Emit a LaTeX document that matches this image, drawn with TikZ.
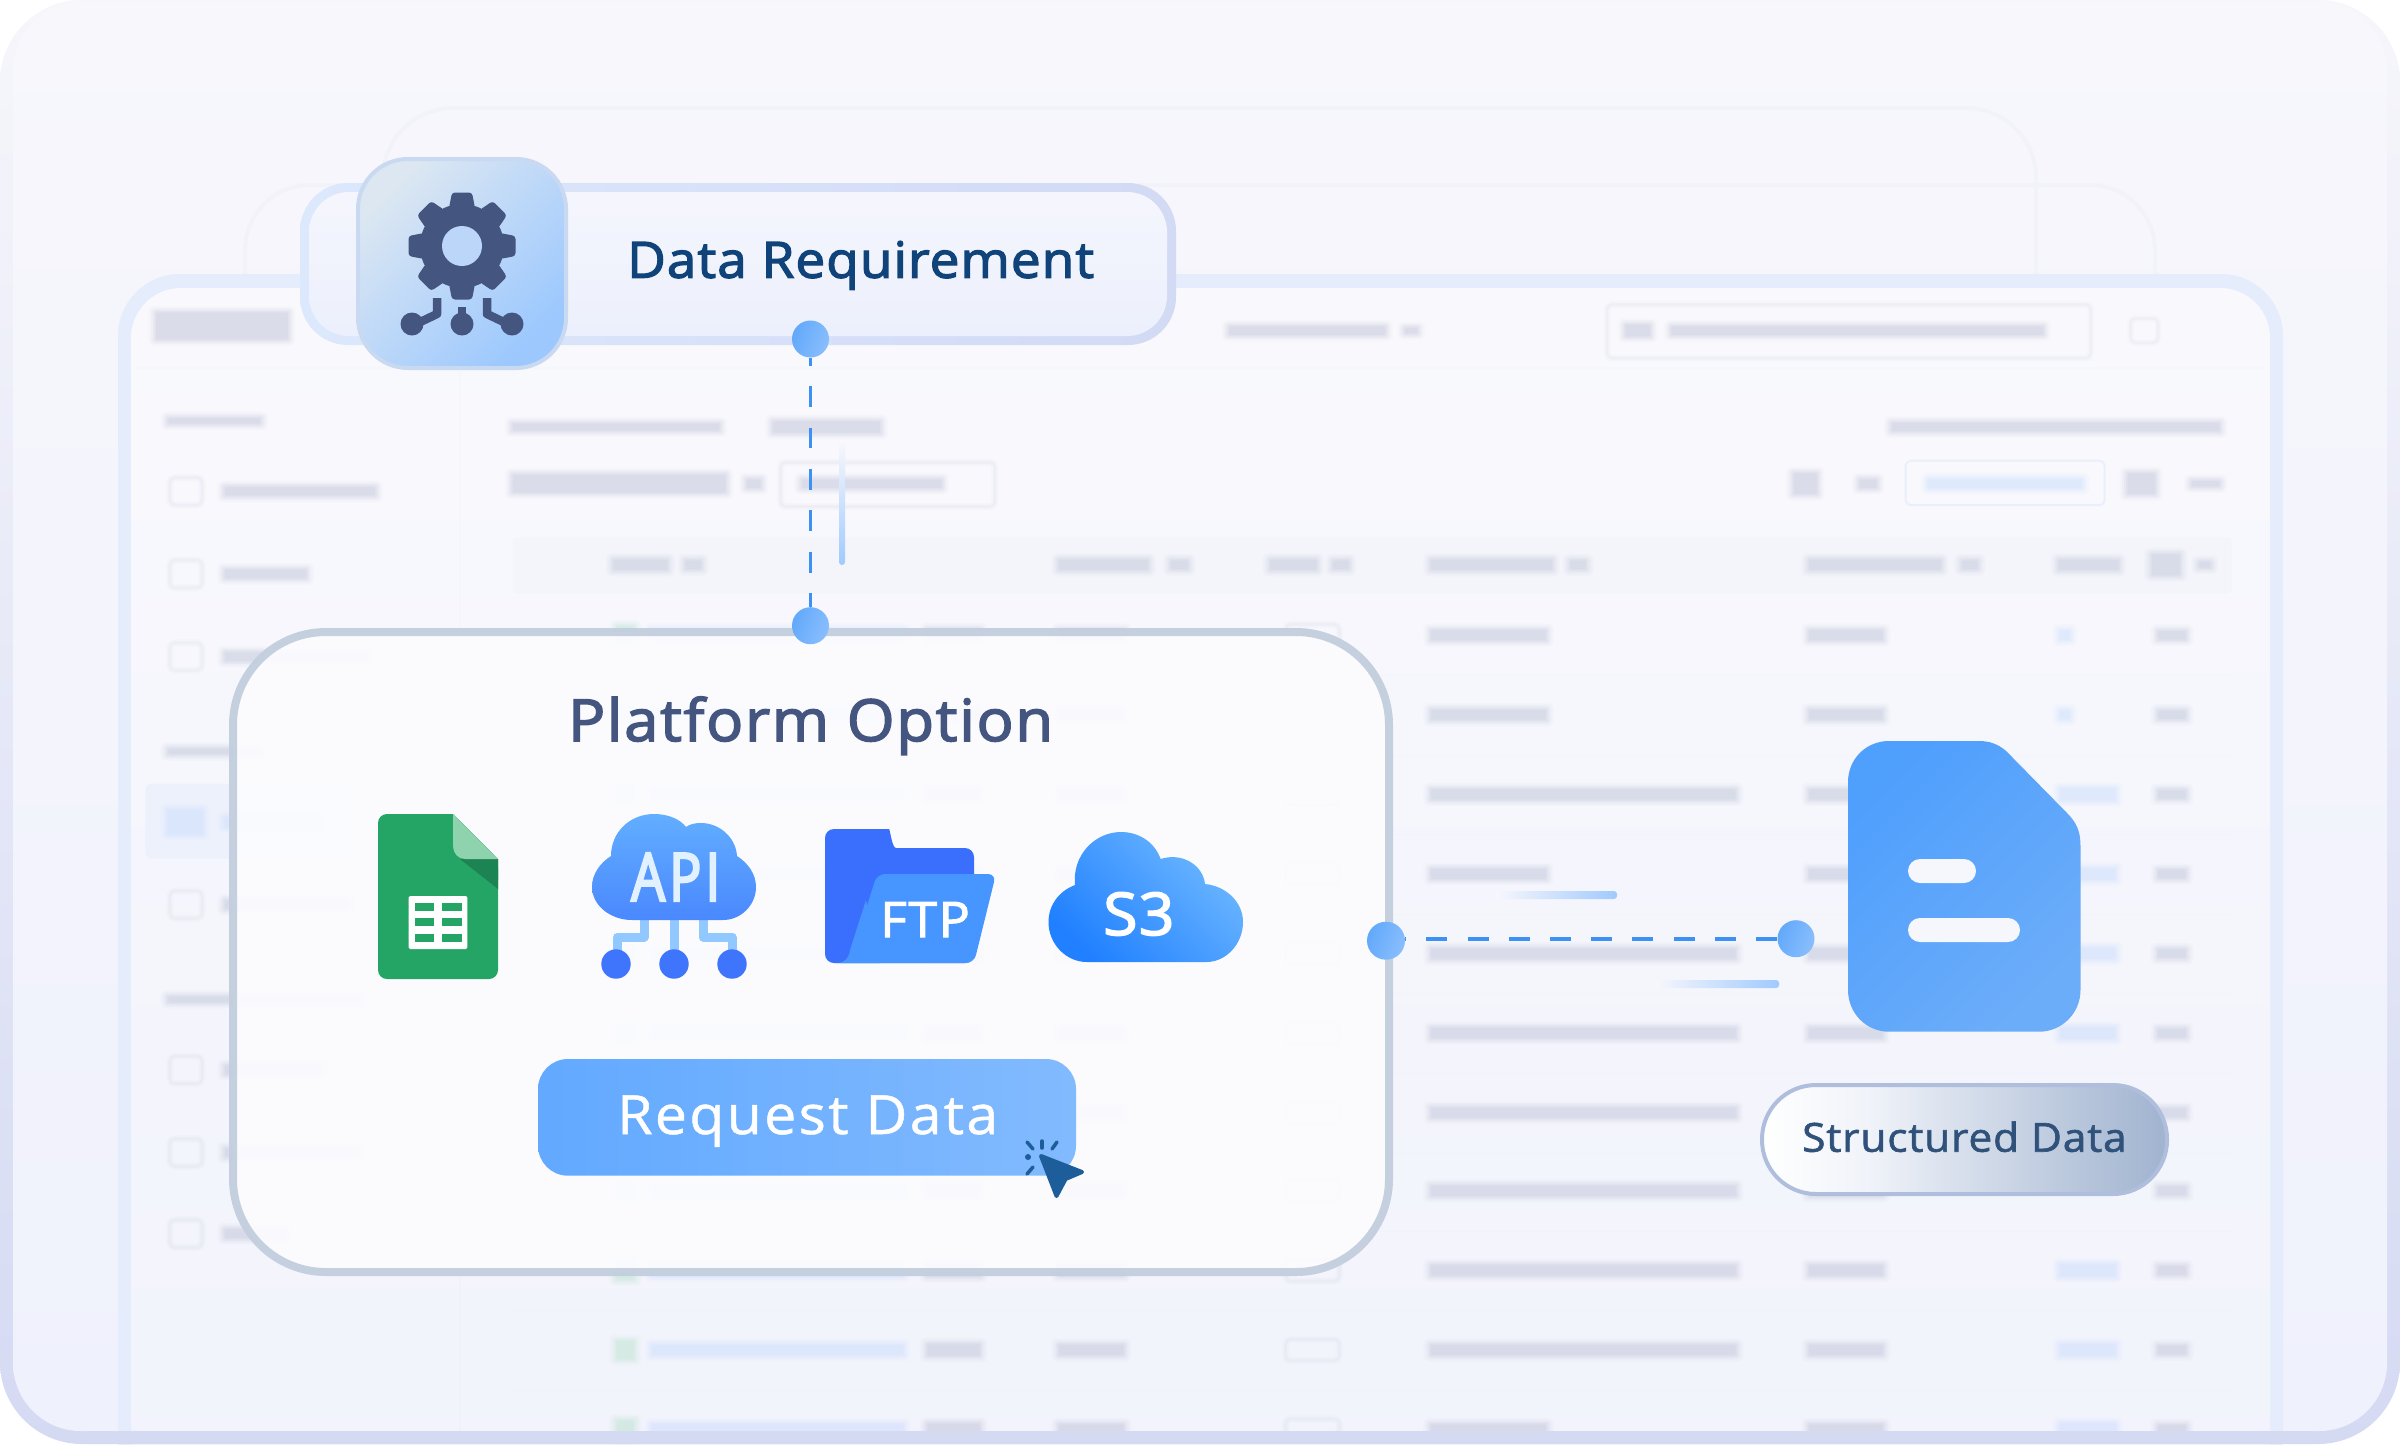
\documentclass[tikz,border=0pt]{standalone}
\usepackage{fontspec}
\setmainfont{Open Sans}
\newcommand\lab[3]{\fontsize{#1}{#1}\selectfont\fontspec{Open Sans}[FakeBold=#2,FakeStretch=1.06,LetterSpace=#3]}
\definecolor{bgtop}{HTML}{F7F7FC}
\definecolor{bgbot}{HTML}{EFF1FC}
\definecolor{frtop}{HTML}{F6F6FB}
\definecolor{frbot}{HTML}{D5DAF3}
\definecolor{paneltop}{HTML}{F9F9FD}
\definecolor{panelbot}{HTML}{F1F3FC}
\definecolor{panelline}{HTML}{E5ECFB}
\definecolor{backline}{HTML}{F2F3F9}
\definecolor{blurgrey}{HTML}{C6CADD}
\definecolor{blurblue}{HTML}{CFE0FC}
\definecolor{blurgreen}{HTML}{BFE6D4}
\definecolor{dotA}{HTML}{62A9FB}
\definecolor{dotB}{HTML}{8ABEFD}
\definecolor{dash}{HTML}{3D91F5}
\definecolor{accent}{HTML}{A0CAFD}
\definecolor{navy}{HTML}{44557F}
\definecolor{ink}{HTML}{10437A}
\definecolor{pillink}{HTML}{30527A}
\definecolor{sheet}{HTML}{24A566}
\definecolor{sheetlt}{HTML}{8FD2AE}
\definecolor{sheetdk}{HTML}{1C8452}
\definecolor{folderbk}{HTML}{3A6EFC}
\definecolor{folderfr}{HTML}{4795FE}
\definecolor{cursor}{HTML}{1C5D9A}
\definecolor{platline}{HTML}{C3CEDE}
\definecolor{pilldark}{HTML}{A0B3CF}
\definecolor{pillmid}{HTML}{F0F3F9}
\definecolor{apiln}{HTML}{90C8FF}
\definecolor{drlinea}{HTML}{DCE8FC}
\definecolor{drlineb}{HTML}{D2DAF4}
\definecolor{drfilla}{HTML}{F5F6FD}
\definecolor{drfillb}{HTML}{ECF0FC}
\definecolor{tileline}{HTML}{C9D9F2}
\definecolor{tilebr}{HTML}{9CC8FE}
\definecolor{tiletl}{HTML}{DCE7F2}
\definecolor{tilemid}{HTML}{BBD6F8}
\definecolor{platfill}{HTML}{FCFCFF}
\definecolor{apidot}{HTML}{3F74FC}
\definecolor{apitop}{HTML}{62AEFF}
\definecolor{apibot}{HTML}{4A88FE}
\definecolor{apitext}{HTML}{E2F1FF}
\definecolor{s3a}{HTML}{2080FF}
\definecolor{s3b}{HTML}{6EB8FF}
\definecolor{btna}{HTML}{62A9FF}
\definecolor{btnb}{HTML}{82BAFE}
\definecolor{doca}{HTML}{4F9FFD}
\definecolor{docb}{HTML}{6CADF9}
\definecolor{docbar}{HTML}{F5F7FD}
\definecolor{pillline}{HTML}{AFBEDC}
\pgfdeclarehorizontalshading{pillshade}{100bp}{color(0bp)=(white);color(25bp)=(white);color(38bp)=(pillmid);color(75bp)=(pilldark);color(100bp)=(pilldark)}
\tikzset{
  conn/.style={draw=dash,line width=4pt},
  portdot/.style={circle,minimum size=37pt,inner sep=0pt,shade,bottom color=dotA,top color=dotB,shading angle=-110},
  tlabel/.style={anchor=base west,inner sep=0pt},
  glyph/.style={fill=navy},
  iconline/.style={draw=navy,line width=8.5pt},
  apiline/.style={draw=apiln,line width=9pt,line join=round},
  spark/.style={draw=cursor,line width=3.5pt,line cap=round},
}
\newcommand\blurbar[5]{%
  \fill[#5,opacity=.08,rounded corners=5pt] ({#1-5},{#3-#4-4}) rectangle ({#2+5},{#3+#4+4});
  \fill[#5,opacity=.12,rounded corners=4pt] ({#1-3.5},{#3-#4-2.8}) rectangle ({#2+3.5},{#3+#4+2.8});
  \fill[#5,opacity=.16,rounded corners=3pt] ({#1-2.2},{#3-#4-1.7}) rectangle ({#2+2.2},{#3+#4+1.7});
  \fill[#5,opacity=.20,rounded corners=2pt] ({#1-1},{#3-#4-.7}) rectangle ({#2+1},{#3+#4+.7});
  \fill[#5,opacity=.22,rounded corners=2pt] (#1,{#3-#4+.3}) rectangle (#2,{#3+#4-.3});
}
\newcommand\blurline[4]{%
  \draw[blurgrey,opacity=.07,line width=7pt,rounded corners=5pt] (#1,#2) rectangle (#3,#4);
  \draw[blurgrey,opacity=.12,line width=3pt,rounded corners=5pt] (#1,#2) rectangle (#3,#4);}
\begin{document}
\begin{tikzpicture}[x=1pt,y=-1pt]
\useasboundingbox (0,0) rectangle (2400,1444);
\fill[white] (0,0) rectangle (2400,1444);
% outer frame
\shade[top color=frtop,bottom color=frbot,rounded corners=82pt] (0,0) rectangle (2400,1444);
\shade[top color=bgtop,bottom color=bgbot,rounded corners=68pt] (13,2) rectangle (2387,1431);
% back layers
\draw[backline,line width=4pt,rounded corners=70pt] (383,400) -- (383,108) -- (2036,108) -- (2036,600);
\draw[backline,line width=4pt,rounded corners=65pt] (245,400) -- (245,185) -- (2155,185) -- (2155,500);
% main panel
\shade[top color=panelline,bottom color=panelline,rounded corners=62pt] (118,1520) -- (118,274) -- (2283,274) -- (2283,1520) -- cycle;
\shade[top color=paneltop,bottom color=panelbot,rounded corners=50pt] (131,1520) -- (131,288) -- (2270,288) -- (2270,1520) -- cycle;
% blurred screen behind (all in the small image's coordinates)
\begin{scope}[x=1.5306pt,y=-1.5306pt]
\fill[blurgrey,opacity=.04] (86,240) rectangle (1480,241);
\fill[blurgrey,opacity=.04] (300,240) rectangle (301,935);
\blurbar{102}{188}{213}{9}{blurgrey}
\blurbar{110}{170}{275}{2}{blurgrey}
\blurbar{147}{245}{321}{3}{blurgrey}
\blurbar{147}{200}{375}{3}{blurgrey}
\blurbar{147}{240}{429}{3}{blurgrey}
\blurbar{110}{170}{491}{2}{blurgrey}
\fill[blurblue,opacity=.22,rounded corners=6pt] (95,512) rectangle (230,561);
\blurbar{110}{132}{537}{8}{blurblue}
\blurbar{147}{208}{537}{3}{blurblue}
\blurbar{147}{228}{591}{3}{blurgrey}
\blurbar{110}{235}{653}{2}{blurgrey}
\blurbar{147}{210}{699}{3}{blurgrey}
\blurbar{147}{235}{753}{3}{blurgrey}
\blurbar{147}{186}{806}{3}{blurgrey}
\foreach \yy in {321,375,429,591,699,753,806}{\blurline{111}{\yy-9}{132}{\yy+9}}
% top bar
\blurbar{803}{905}{216}{3}{blurgrey}
\blurbar{918}{926}{216}{2}{blurgrey}
\blurline{1050}{199}{1366}{234}
\blurbar{1062}{1078}{216}{4}{blurgrey}
\blurbar{1092}{1335}{216}{3}{blurgrey}
\blurline{1392}{208}{1410}{224}
% heading rows
\blurbar{335}{470}{279}{2.5}{blurgrey}
\blurbar{505}{575}{279}{4}{blurgrey}
\blurbar{1236}{1450}{279}{3}{blurgrey}
\blurbar{335}{474}{316}{6}{blurgrey}
\blurbar{488}{497}{316}{3}{blurgrey}
\blurline{510}{302}{650}{331}
\blurbar{524}{615}{316}{3}{blurgrey}
\blurbar{1172}{1187}{316}{7}{blurgrey}
\blurbar{1215}{1226}{316}{3}{blurgrey}
\draw[blurblue,opacity=.35,line width=2pt,rounded corners=5pt] (1245,301) rectangle (1375,330);
\blurbar{1260}{1360}{316}{3}{blurblue}
\blurbar{1390}{1408}{316}{7}{blurgrey}
\blurbar{1432}{1450}{316}{2}{blurgrey}
% table header
\fill[blurgrey,opacity=.05,rounded corners=4pt] (335,351) rectangle (1458,388);
\blurbar{401}{436}{369}{3.5}{blurgrey}
\blurbar{448}{458}{369}{3}{blurgrey}
\blurbar{692}{750}{369}{3.5}{blurgrey}
\blurbar{765}{776}{369}{3}{blurgrey}
\blurbar{830}{860}{369}{3.5}{blurgrey}
\blurbar{871}{881}{369}{3}{blurgrey}
\blurbar{935}{1014}{369}{3.5}{blurgrey}
\blurbar{1026}{1036}{369}{3}{blurgrey}
\blurbar{1182}{1268}{369}{3.5}{blurgrey}
\blurbar{1282}{1292}{369}{3}{blurgrey}
\blurbar{1345}{1384}{369}{3.5}{blurgrey}
\blurbar{1406}{1424}{369}{7}{blurgrey}
\blurbar{1437}{1444}{369}{2}{blurgrey}
% table rows
\foreach \yy in {415,467,519,571,623,675,727,778,830,882,934}{
  \fill[blurgrey,opacity=.04] (335,\yy+26) rectangle (1458,\yy+26.7);
  \blurbar{403}{414}{\yy}{6}{blurgreen}
  \blurbar{426}{590}{\yy}{3.5}{blurblue}
  \blurbar{606}{640}{\yy}{4}{blurgrey}
  \blurbar{692}{734}{\yy}{3.5}{blurgrey}
  \blurline{840}{\yy-7}{875}{\yy+7}
  \blurbar{1182}{1230}{\yy}{3.5}{blurgrey}
  \blurbar{1410}{1428}{\yy}{3}{blurgrey}
}
\foreach \yy in {519,623,675,727,778,830,882}{\blurbar{935}{1134}{\yy}{3.5}{blurgrey}}
\foreach \yy in {415,467,571,934}{\blurbar{935}{1010}{\yy}{3.5}{blurgrey}}
\foreach \yy in {519,571,623,675,830,882,934}{\blurbar{1346}{1382}{\yy}{4}{blurblue}}
\foreach \yy in {415,467}{\blurbar{1346}{1352}{\yy}{3}{blurblue}}
\end{scope}
% frame bottom band over the panel
\fill[frbot] (88,1431) rectangle (2312,1444);
% vertical and horizontal accents
\shade[top color=bgtop,bottom color=accent,rounded corners=3pt] (839,443) rectangle (845,565);
\shade[left color=bgtop,right color=accent,rounded corners=3pt] (1496,891) rectangle (1617,899);
\shade[left color=bgtop,right color=accent,rounded corners=3pt] (1655,980) rectangle (1779,988);
% data requirement box
\shade[left color=drlinea,right color=drlineb,rounded corners=48pt] (300,183) rectangle (1176,345);
\shade[top color=drfilla,bottom color=drfillb,rounded corners=40pt] (309,192) rectangle (1167,336);
\node[tlabel,text=ink] (reqlabel) at (627,277.7) {\lab{50}{2.6}{2.2}Data Requirement};
% gear tile
\draw[draw=tileline,line width=4pt,rounded corners=50pt,shade,bottom color=tilebr,top color=tiletl,shading angle=45] (358,159) rectangle (566,368);
\begin{scope}[shift={(462,246)}]
  \fill[glyph] (0,0) circle (42pt);
  \foreach \a in {0,45,...,315}{
    \fill[glyph,rotate=\a,rounded corners=3pt] (-13,-38) -- (-10,-53.5) -- (10,-53.5) -- (13,-38) -- cycle;
  }
  \fill[tilemid] (0,0) circle (20pt);
\end{scope}
\draw[iconline,line join=round] (437,298) -- (437,314) -- (414,325);
\draw[iconline,line join=round] (487,298) -- (487,314) -- (510,325);
\draw[iconline] (462,307) -- (462,324);
\fill[glyph] (412,324) circle (11.5pt) (462,324) circle (11.5pt) (512,324) circle (11.5pt);
% platform box
\draw[draw=platline,line width=8pt,fill=platfill,fill opacity=.93,draw opacity=.95,rounded corners=93pt] (233,632) rectangle (1389,1272);
\node[tlabel,text=navy] (platlabel) at (568,741) {\lab{58}{2.6}{3}Platform Option};
% sheet icon
\fill[sheet,rounded corners=9pt] (453,814) -- (378,814) -- (378,979) -- (498,979) -- (498,859) -- cycle;
\fill[sheet] (453,814) -- (498,859) -- (498,880) -- (440,880) -- (440,814) -- cycle;
\fill[sheetdk] (460,859) -- (498,859) -- (498,889) -- cycle;
\fill[sheetlt] (453,814) -- (498,859) -- (465,859) .. controls (458,859) and (453,853) .. (453,846) -- cycle;
\fill[white,rounded corners=1.5pt] (408.6,896) rectangle (467.4,949);
\foreach \cx/\cy in {414.7/903,442/903,414.7/918,442/918,414.7/933.7,442/933.7}{
  \fill[sheet] (\cx,\cy) rectangle (\cx+19.5,\cy+8);
}
% API cloud
\draw[apiline] (644,915) -- (644,937) -- (617,937) -- (617,955);
\draw[apiline] (674,915) -- (674,955);
\draw[apiline] (703,915) -- (703,937) -- (732,937) -- (732,955);
\fill[apidot] (616,964) circle (14.7pt) (674,964) circle (14.7pt) (732,964) circle (14.7pt);
\shade[top color=apitop,bottom color=apibot] (632,920) .. controls (610,920) and (592,905) .. (592,887) .. controls (592,874) and (600,863) .. (611,856) .. controls (611,832) and (630,814) .. (654,814) .. controls (668,814) and (680,819) .. (686,827) .. controls (690,824) and (695,823) .. (701,823) .. controls (720,823) and (736,838) .. (737,856) .. controls (748,863) and (756,874) .. (756,887) .. controls (756,905) and (741,920) .. (723,920) -- cycle;
\node[tlabel,text=apitext] (apilabel) at (631,901) {\fontsize{67}{67}\selectfont\fontspec{Open Sans}[FakeBold=3.2,FakeStretch=0.8,LetterSpace=6]API};
% folder icon
\fill[folderbk,rounded corners=9pt] (825,963) -- (825,829) -- (880,829) .. controls (890,829) and (892,848) .. (905,848) -- (974,848) -- (974,963) -- cycle;
\fill[folderfr,rounded corners=8pt] (836,963) -- (974,963) -- (996,874) -- (877,874) -- (849,963) -- cycle;
\fill[folderfr] (836,963) .. controls (845,963) and (849,958) .. (850,950) -- (866,900) -- (880,963) -- cycle;
\node[tlabel,text=white] (ftplabel) at (880,937) {\lab{49}{2}{3}FTP};
% S3 cloud
\shade[bottom color=s3a,top color=s3b,shading angle=-45] (1087,962) .. controls (1066,962) and (1048.5,944) .. (1048.5,922) .. controls (1048.5,905) and (1059,891) .. (1075,885) .. controls (1072,855) and (1095,832) .. (1121,832) .. controls (1140,832) and (1155,843) .. (1160.6,859) .. controls (1182,852) and (1203,865) .. (1205,884) .. controls (1226,886) and (1243,902) .. (1243,922) .. controls (1243,944) and (1226,962) .. (1206.5,962) -- cycle;
\node[tlabel,text=white] (s3label) at (1103,935) {\lab{59}{2.6}{2}S3};
% request button
\shade[left color=btna,right color=btnb,rounded corners=30pt] (538,1059) rectangle (1076,1175.7);
\node[tlabel,text=white] (btnlabel) at (617,1134) {\lab{54}{0.9}{4.3}Request Data};
% cursor
\fill[cursor,draw=cursor,line width=4pt,line join=round] (1041,1156) -- (1082,1172) -- (1065.6,1179) -- (1056.5,1196) -- cycle;
\draw[spark] (1027,1142) -- (1033,1149);
\draw[spark] (1042,1141) -- (1042,1148);
\draw[spark] (1057,1142) -- (1052,1149);
\draw[spark] (1033,1167) -- (1027,1174);
\fill[cursor] (1028,1157) circle (3pt);
% doc icon
\shade[bottom color=doca,top color=docb,shading angle=-135] (1889,741) -- (1979,741) .. controls (1995,741) and (2004,748) .. (2012,757) -- (2067,813) .. controls (2077,823) and (2080.5,832) .. (2080.5,846) -- (2080.5,990) .. controls (2080.5,1013) and (2062,1031.7) .. (2039,1031.7) -- (1889,1031.7) .. controls (1866,1031.7) and (1848,1013) .. (1848,990) -- (1848,782) .. controls (1848,759) and (1866,741) .. (1889,741) -- cycle;
\fill[docbar,rounded corners=12pt] (1908,859) rectangle (1976,883);
\fill[docbar,rounded corners=12pt] (1908,918) rectangle (2020,942);
% pill
\draw[draw=pillline,line width=4pt,rounded corners=54pt,shade,shading=pillshade] (1762,1085) rectangle (2167,1194);
\node[tlabel,text=pillink] (pilllabel) at (1802,1151.7) {\lab{40}{1.6}{2.2}Structured Data};
% ports and connectors
\node[portdot] (p1) at (810.5,339) {};
\node[portdot] (p2) at (810.5,625.7) {};
\node[portdot,minimum size=38pt] (p3) at (1386,940.7) {};
\node[portdot] (p4) at (1796,938.7) {};
\draw[conn,line width=3.5pt,dash pattern=on 20.7pt off 20.7pt,dash phase=12.9pt] (p1.south) -- (p2.north);
\draw[conn,dash pattern=on 21pt off 20.2pt,dash phase=20pt] (p3.east |- p4.center) -- (p4.west);
\end{tikzpicture}
\end{document}
